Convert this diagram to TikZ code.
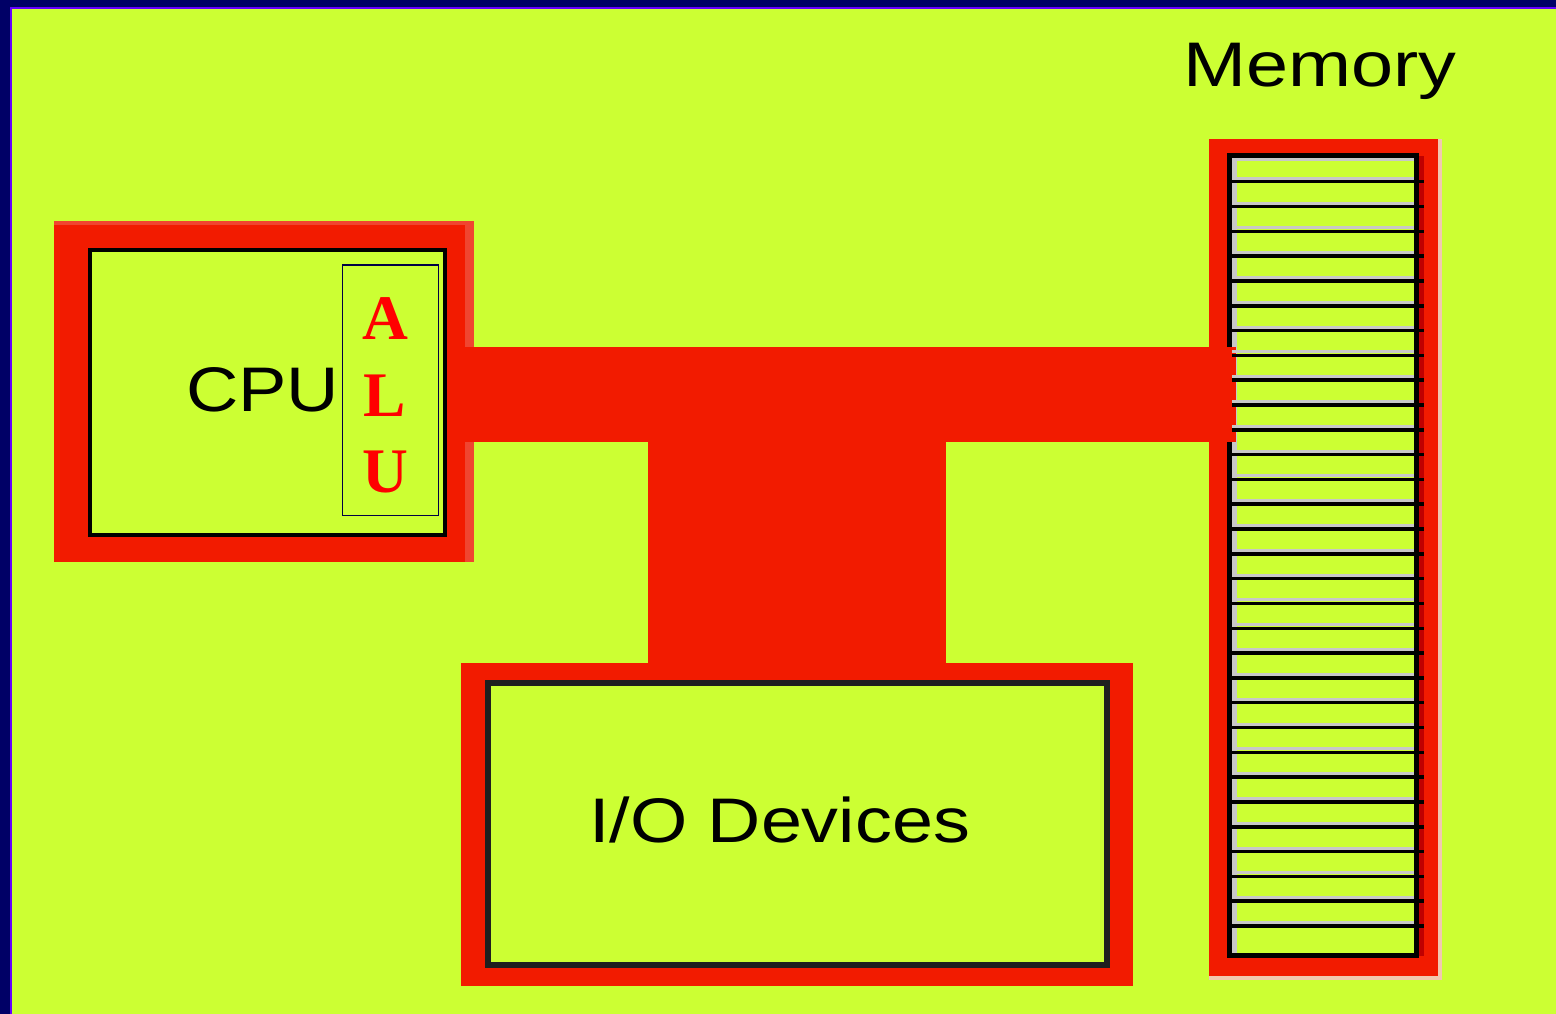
\documentclass[tikz,border=0pt]{standalone}
\usepackage{fontspec}
\setmainfont{Liberation Sans}
\newfontfamily\alufont{Liberation Serif}
\definecolor{bgc}{HTML}{CCFF33}
\definecolor{navyc}{HTML}{000066}
\definecolor{purpc}{HTML}{6600FF}
\definecolor{redc}{HTML}{F21B00}
\definecolor{lightredc}{HTML}{F04530}
\definecolor{darkredc}{HTML}{C00000}
\definecolor{palec}{HTML}{F2C8B0}
\definecolor{greyc}{HTML}{C8C8C8}
\definecolor{alured}{HTML}{FF0000}
\definecolor{alubox}{HTML}{000044}
\tikzset{
  redframe/.style={rectangle, fill=redc, draw=none, inner sep=0pt, outer sep=0pt},
  innerbox/.style={rectangle, fill=bgc, draw=black, inner sep=0pt, outer sep=0pt},
  lbl/.style={inner sep=0pt, outer sep=0pt, font=\fontsize{63}{63}\selectfont, text=black},
  alulet/.style={inner sep=0pt, outer sep=0pt, font=\alufont\bfseries\fontsize{63.5}{63.5}\selectfont, text=alured},
  cellline/.style={draw=black, line width=3.5pt},
  cellshade/.style={draw=greyc, line width=3pt}
}
\begin{document}
\begin{tikzpicture}[x=1pt,y=-1pt]
\useasboundingbox (0,0) rectangle (1556,1014);
\clip (0,0) rectangle (1556,1014);
% background
\fill[navyc] (0,0) rectangle (1556,1014);
\fill[purpc] (10,7) rectangle (1560,1020);
\fill[bgc] (12,9) rectangle (1560,1020);

% CPU
\node[redframe, minimum width=420pt, minimum height=341pt] (cpu) at (264,391.5) {};
\fill[lightredc] (cpu.north west) rectangle ([yshift=-4pt]cpu.north east);
\fill[lightredc] ([xshift=-9pt]cpu.north east) rectangle (cpu.south east);
\node[innerbox, line width=4pt, minimum width=355pt, minimum height=285pt] (cpuin) at (267.5,392.5) {};
\node[rectangle, draw=alubox, line width=1.3pt, inner sep=0pt, minimum width=96pt, minimum height=250.5pt] (alu) at (390.5,390.25) {};
\node[lbl, anchor=base] (cputext) at (262.5,411) {\scalebox{1.15}[1]{CPU}};
\node[alulet, anchor=base] (alua) at (385,339) {A};
\node[alulet, anchor=base] (alul) at (385,416) {L};
\node[alulet, anchor=base] (aluu) at (385,492) {U};

% I/O
\node[redframe, minimum width=672pt, minimum height=323pt] (io) at (797,824.5) {};
\node[innerbox, draw=black!88, line width=6pt, minimum width=619pt, minimum height=282.5pt] (ioin) at (797.5,823.75) {};
\node[lbl, anchor=base] (iotext) at (779.5,842) {\scalebox{1.17}[1]{I/O Devices}};

% Memory
\node[redframe, minimum width=229pt, minimum height=837pt] (mem) at (1323.5,557.5) {};
\fill[palec] (mem.north east) rectangle ([xshift=4pt,yshift=-4pt]mem.south east);
\fill[palec] (mem.south west) rectangle ([yshift=-4pt]mem.south east);
\node[innerbox, line width=5pt, minimum width=187pt, minimum height=799.5pt] (memin) at (1323,555.75) {};
\fill[darkredc] ([xshift=2.5pt]memin.north east) rectangle ([xshift=7.5pt]memin.south east);
\fill[greyc] ([xshift=2.5pt,yshift=-2.5pt]memin.north west) rectangle ([xshift=7.5pt,yshift=2.5pt]memin.south west);
\draw[cellshade] (1232,160) -- (1414,160);
\node[lbl, anchor=base] (memtext) at (1320,87) {\scalebox{1.2}[1]{Memory}};

% bus
\fill[redc] ([xshift=2pt]cpuin.east |- 0,347) rectangle ([xshift=6.5pt]memin.west |- 0,442);
\fill[redc] (648,441) rectangle (io.north -| 946,0);

% memory cells
\foreach \k in {0,...,30}{
  \pgfmathsetmacro{\yy}{181.7+24.81*\k}
  \draw[cellshade] (1232,\yy-3.5) -- (1414,\yy-3.5);
  \draw[cellline] (1232,\yy) -- (1424,\yy);
}
\end{tikzpicture}
\end{document}
